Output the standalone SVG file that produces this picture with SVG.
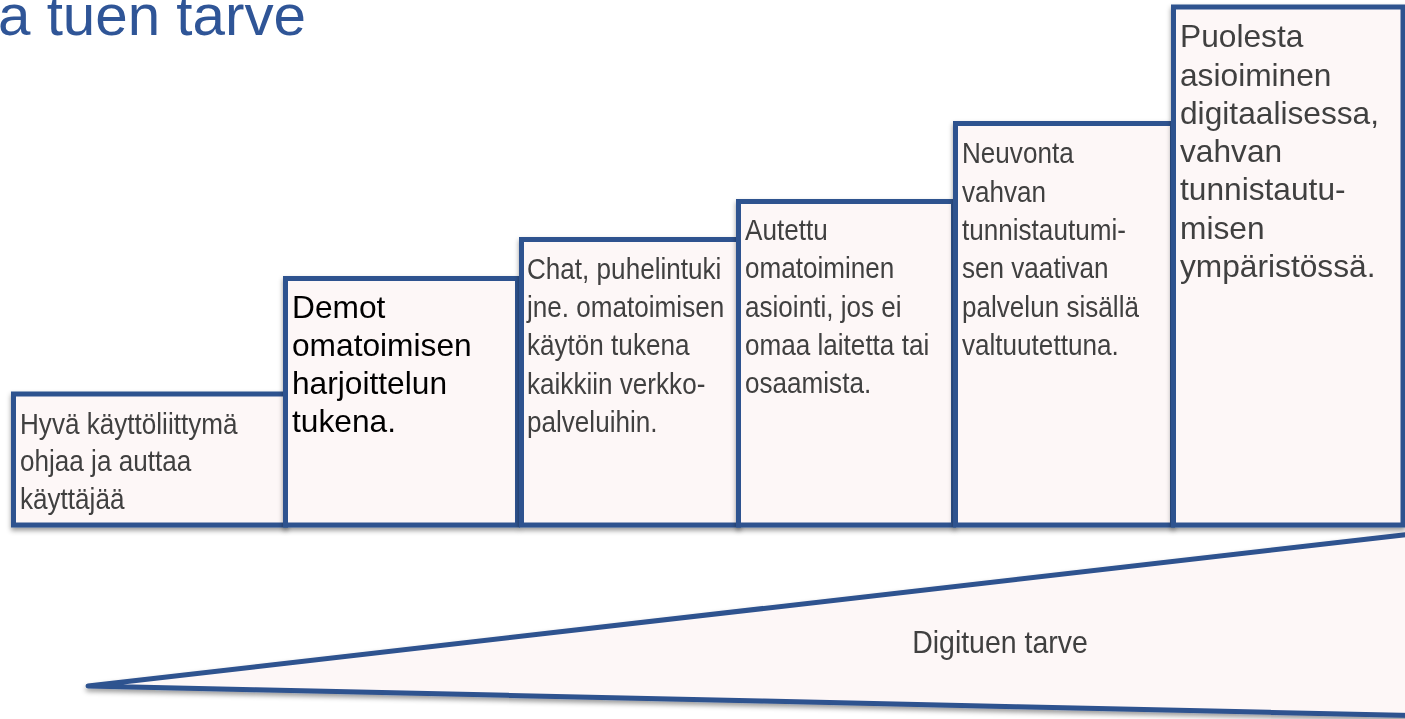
<svg xmlns="http://www.w3.org/2000/svg" width="1405" height="719" viewBox="0 0 1405 719">
<defs>
<filter id="sh" x="-10%" y="-10%" width="120%" height="130%">
<feDropShadow dx="0" dy="3" stdDeviation="2.5" flood-color="#000" flood-opacity="0.4"/>
</filter>
</defs>
<style>
.box{fill:#FDF7F7;stroke:#2F528F;stroke-width:5;}
.n{font-family:"Liberation Sans",Arial,sans-serif;font-size:29px;fill:#404040;}
.r{font-family:"Liberation Sans",Arial,sans-serif;font-size:31.7px;}
</style>
<rect width="1405" height="719" fill="#FFFFFF"/>
<text x="-2" y="35" font-family="Liberation Sans, Arial, sans-serif" font-size="58" fill="#2F5597" textLength="308" lengthAdjust="spacingAndGlyphs">a tuen tarve</text>

<g id="wedge" filter="url(#sh)">
<polygon points="88,686 1412,534 1412,715.5" fill="#FDF7F7" stroke="#2F528F" stroke-width="5" stroke-linejoin="round"/>
<text class="n" transform="translate(1000 0) scale(0.89 1)" x="0" y="653" text-anchor="middle" style="font-size:32px">Digituen tarve</text>
</g>

<g id="step1" filter="url(#sh)">
<rect class="box" x="13.5" y="394" width="272" height="131"/>
<text class="n" transform="translate(20 0) scale(0.9 1)"><tspan x="0" y="434">Hyvä käyttöliittymä</tspan><tspan x="0" y="471.5">ohjaa ja auttaa</tspan><tspan x="0" y="509">käyttäjää</tspan></text>
</g>

<g id="step2" filter="url(#sh)">
<rect class="box" x="285.5" y="278.5" width="232" height="246.5"/>
<text class="r" fill="#000000"><tspan x="292" y="318">Demot</tspan><tspan x="292" y="356">omatoimisen</tspan><tspan x="292" y="394">harjoittelun</tspan><tspan x="292" y="432">tukena.</tspan></text>
</g>

<g id="step3" filter="url(#sh)">
<rect class="box" x="521.5" y="239.5" width="217" height="285.5"/>
<text class="n" transform="translate(527 0) scale(0.9 1)"><tspan x="0" y="279">Chat, puhelintuki</tspan><tspan x="0" y="317">jne. omatoimisen</tspan><tspan x="0" y="355.5">käytön tukena</tspan><tspan x="0" y="394">kaikkiin verkko-</tspan><tspan x="0" y="432">palveluihin.</tspan></text>
</g>

<g id="step4" filter="url(#sh)">
<rect class="box" x="738.5" y="201.5" width="215" height="323.5"/>
<text class="n" transform="translate(745 0) scale(0.9 1)"><tspan x="0" y="240">Autettu</tspan><tspan x="0" y="278.3">omatoiminen</tspan><tspan x="0" y="316.7">asiointi, jos ei</tspan><tspan x="0" y="355">omaa laitetta tai</tspan><tspan x="0" y="393">osaamista.</tspan></text>
</g>

<g id="step5" filter="url(#sh)">
<rect class="box" x="955.5" y="123.5" width="217" height="401.5"/>
<text class="n" transform="translate(962 0) scale(0.9 1)"><tspan x="0" y="163.3">Neuvonta</tspan><tspan x="0" y="201.7">vahvan</tspan><tspan x="0" y="240">tunnistautumi-</tspan><tspan x="0" y="278.3">sen vaativan</tspan><tspan x="0" y="316.7">palvelun sisällä</tspan><tspan x="0" y="355">valtuutettuna.</tspan></text>
</g>

<g id="step6" filter="url(#sh)">
<rect class="box" x="1173.5" y="7" width="229.5" height="518"/>
<text class="r" fill="#404040"><tspan x="1180" y="47">Puolesta</tspan><tspan x="1180" y="85.5">asioiminen</tspan><tspan x="1180" y="123.5">digitaalisessa,</tspan><tspan x="1180" y="162">vahvan</tspan><tspan x="1180" y="200">tunnistautu-</tspan><tspan x="1180" y="238.5">misen</tspan><tspan x="1180" y="277">ympäristössä.</tspan></text>
</g>
</svg>
